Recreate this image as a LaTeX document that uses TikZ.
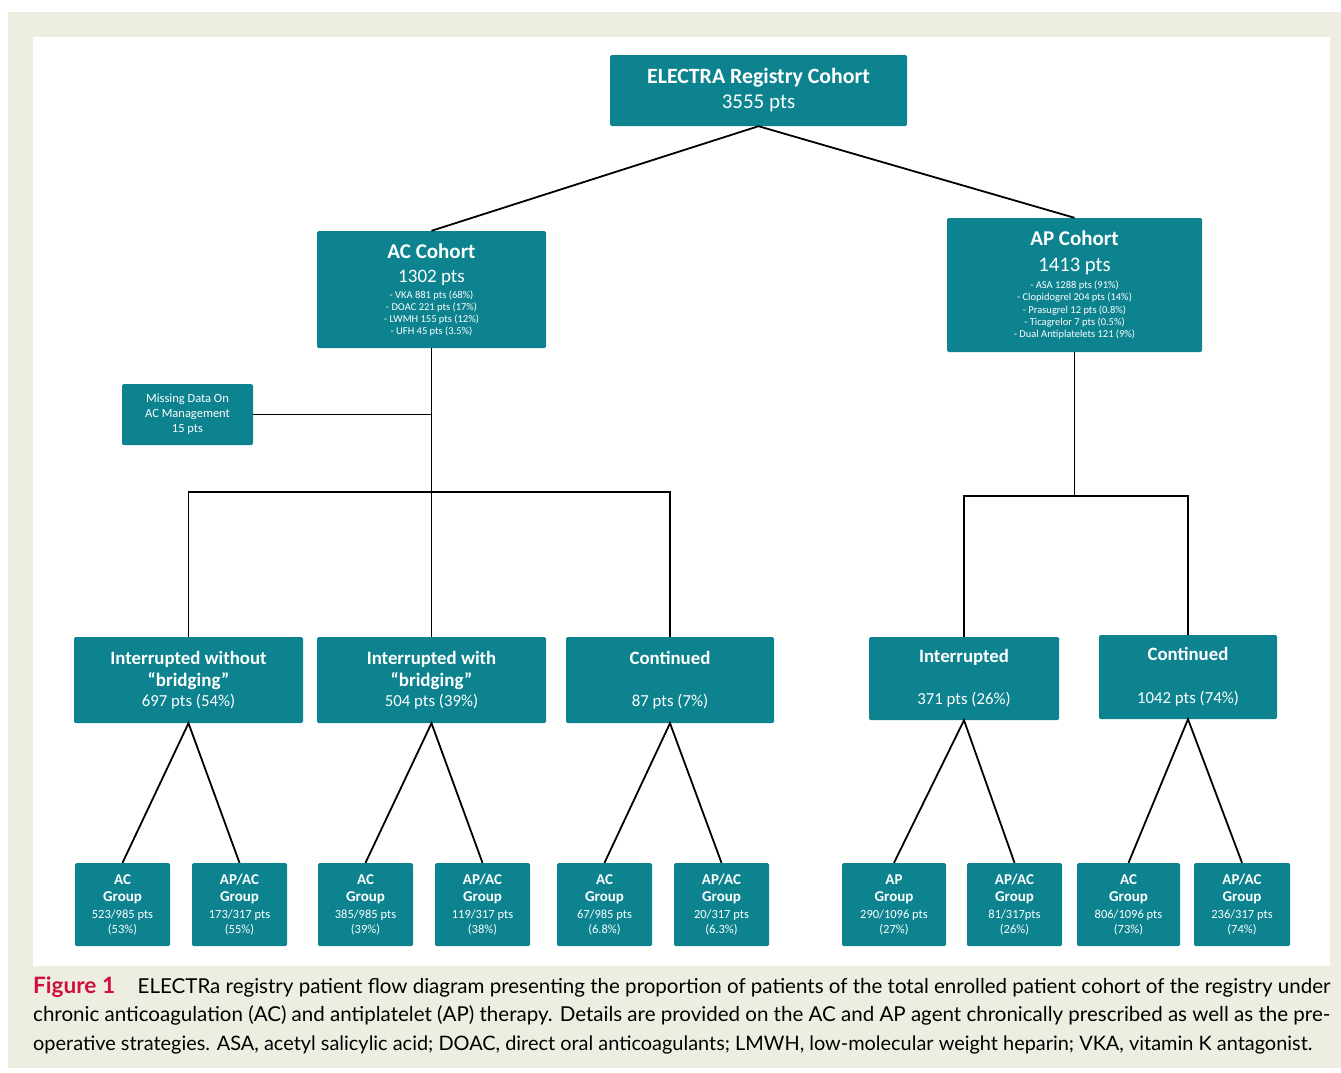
\documentclass[tikz,border=0pt]{standalone}
\usepackage{fontspec}
\setmainfont{Carlito}
\newfontfamily\capfont{Lato}
\definecolor{tealbox}{RGB}{12,131,143}
\definecolor{beigebg}{RGB}{238,237,226}
\definecolor{figred}{RGB}{208,16,58}
\newcommand\myfs[1]{\fontsize{#1}{0}\selectfont}
\newcommand\tightlines{\baselineskip=0pt\relax\lineskiplimit=-1000pt\relax\lineskip=0pt\relax}
\begin{document}
\begin{tikzpicture}[x=1pt,y=-1pt,
  box/.style={fill=tealbox,text=white,rounded corners=1.5pt,inner sep=0pt,align=center,
    font=\tightlines},
  conn/.style={line width=1.8pt,black},
  capline/.style={anchor=base west,inner sep=0pt,font=\capfont}]
\useasboundingbox (0,0) rectangle (1341,1072);
\fill[beigebg] (8,12) rectangle (1341,1068);
\fill[white] (33,37) rectangle (1330,966);

% level 0
\node[box,minimum width=297pt,minimum height=71pt] (top) at (758.5,90.5)
 {\myfs{21.8}\bfseries ELECTRA Registry Cohort\\[25pt]\myfs{21}3555 pts};
% level 1
\node[box,minimum width=229pt,minimum height=117pt] (ac) at (431.5,289.5)
 {\myfs{21}\bfseries AC Cohort\\[24pt]\myfs{19}1302 pts\\[16pt]
  \myfs{10.5}- VKA 881 pts (68\%)\\[12pt]\myfs{10.5}- DOAC 221 pts (17\%)\\[12pt]
  \myfs{10.5}- LWMH 155 pts (12\%)\\[12pt]\myfs{10.5}- UFH 45 pts (3.5\%)};
\node[box,minimum width=255pt,minimum height=134pt] (ap) at (1074.5,285)
 {\myfs{21}\bfseries AP Cohort\\[26pt]\myfs{20.7}1413 pts\\[17pt]
  \myfs{10.5}- ASA 1288 pts (91\%)\\[12.2pt]\myfs{10.5}- Clopidogrel 204 pts (14\%)\\[12.2pt]
  \myfs{10.5}- Prasugrel 12 pts (0.8\%)\\[12.2pt]\myfs{10.5}- Ticagrelor 7 pts (0.5\%)\\[12.2pt]
  \myfs{10.5}- Dual Antiplatelets 121 (9\%)};
\node[box,minimum width=131pt,minimum height=61pt] (miss) at (187.5,414.5)
 {\myfs{12.5}Missing Data On\\[15pt]\myfs{12.5}AC Management\\[15pt]\myfs{12.5}15 pts};
% level 2
\node[box,minimum width=229pt,minimum height=86pt] (iwo) at (188.5,680)
 {\myfs{18.8}\bfseries Interrupted without\\[22pt]\myfs{19}\bfseries “bridging”\\[20pt]\myfs{16.8}697 pts (54\%)};
\node[box,minimum width=229pt,minimum height=86pt] (iwi) at (431.5,680)
 {\myfs{18.8}\bfseries Interrupted with\\[22pt]\myfs{19}\bfseries “bridging”\\[20pt]\myfs{16.8}504 pts (39\%)};
\node[box,minimum width=208pt,minimum height=86pt] (cac) at (670,680)
 {\myfs{18.8}\bfseries Continued\\[42pt]\myfs{16.8}87 pts (7\%)};
\node[box,minimum width=190pt,minimum height=83pt] (iap) at (964,678.5)
 {\myfs{18.8}\bfseries Interrupted\\[42pt]\myfs{16.8}371 pts (26\%)};
\node[box,minimum width=178pt,minimum height=84pt] (cap) at (1188,677)
 {\myfs{18.8}\bfseries Continued\\[43pt]\myfs{16.8}1042 pts (74\%)};
% level 3
\newcommand\grp[3]{\myfs{15}\bfseries #1\\[17pt]\myfs{15}\bfseries Group\\[17pt]\myfs{12.5}#2\\[15pt]\myfs{12.5}#3}
\tikzset{gbox/.style={box,minimum height=83pt,minimum width=#1}}
\node[gbox=95pt] (b1) at (122.5,904.5) {\grp{AC}{523/985 pts}{(53\%)}};
\node[gbox=95pt] (b2) at (239.5,904.5) {\grp{AP/AC}{173/317 pts}{(55\%)}};
\node[gbox=95pt] (b3) at (365.5,904.5) {\grp{AC}{385/985 pts}{(39\%)}};
\node[gbox=95pt] (b4) at (482.5,904.5) {\grp{AP/AC}{119/317 pts}{(38\%)}};
\node[gbox=95pt] (b5) at (604.5,904.5) {\grp{AC}{67/985 pts}{(6.8\%)}};
\node[gbox=95pt] (b6) at (721.5,904.5) {\grp{AP/AC}{20/317 pts}{(6.3\%)}};
\node[gbox=104pt] (b7) at (894,904.5) {\grp{AP}{290/1096 pts}{(27\%)}};
\node[gbox=95pt] (b8) at (1014.5,904.5) {\grp{AP/AC}{81/317pts}{(26\%)}};
\node[gbox=103pt] (b9) at (1128.5,904.5) {\grp{AC}{806/1096 pts}{(73\%)}};
\node[gbox=96pt] (b10) at (1242,904.5) {\grp{AP/AC}{236/317 pts}{(74\%)}};

% connectors
\coordinate (jac) at (431.5,492);
\coordinate (jap) at (1074.5,496);
\draw[conn] (ac.north) -- (top.south) -- (ap.north);
\draw[conn] (ac.south) -- (iwi.north);
\draw[conn] (miss.east) -- (miss.east -| ac.south);
\draw[conn] (iwo.north) |- (jac) -| (cac.north);
\draw[conn] (ap.south) -- (jap);
\draw[conn] (iap.north) |- (jap) -| (cap.north);
\draw[conn] (b1.north) -- (iwo.south) -- (b2.north);
\draw[conn] (b3.north) -- (iwi.south) -- (b4.north);
\draw[conn] (b5.north) -- (cac.south) -- (b6.north);
\draw[conn] (b7.north) -- (iap.south) -- (b8.north);
\draw[conn] (b9.north) -- (cap.south) -- (b10.north);

% caption
\node[capline] (cap1) at (33,993) {\resizebox{1297pt}{!}{\fontsize{20}{24}\selectfont{\fontsize{22}{24}\selectfont\bfseries\color{figred}Figure 1}\hspace{1.1em}ELECTRa registry patient flow diagram presenting the proportion of patients of the total enrolled patient cohort of the registry under}};
\node[capline] (cap2) at (33,1021) {\resizebox{1297pt}{!}{\fontsize{20}{24}\selectfont chronic anticoagulation (AC) and antiplatelet (AP) therapy. Details are provided on the AC and AP agent chronically prescribed as well as the pre-}};
\node[capline] (cap3) at (33,1050) {\resizebox{1279pt}{!}{\fontsize{20}{24}\selectfont operative strategies. ASA, acetyl salicylic acid; DOAC, direct oral anticoagulants; LMWH, low-molecular weight heparin; VKA, vitamin K antagonist.}};
\end{tikzpicture}
\end{document}
